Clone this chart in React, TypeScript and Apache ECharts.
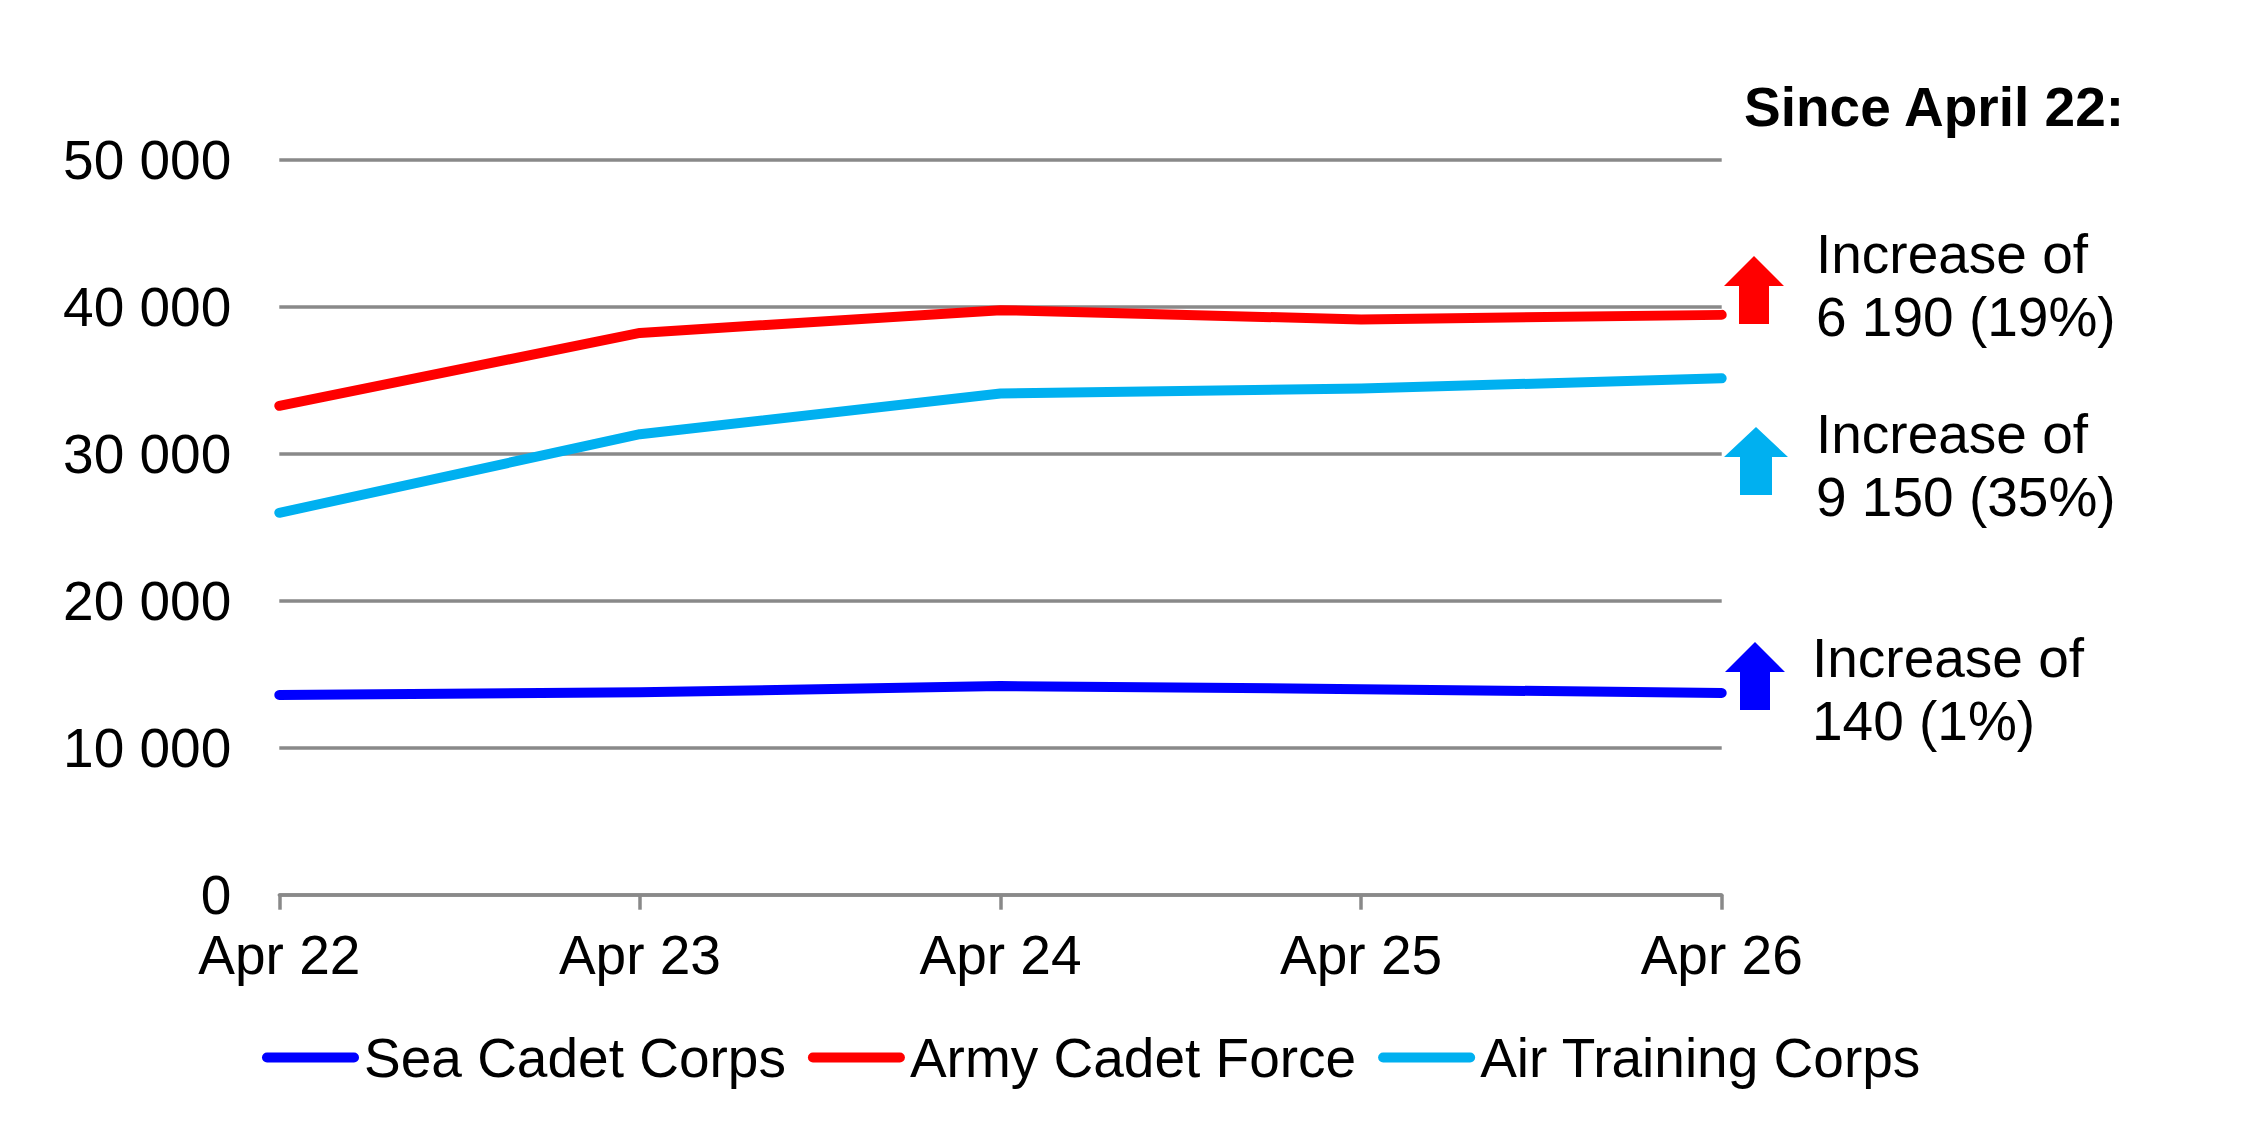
import React, { useEffect, useRef } from "react";
import * as echarts from "echarts";

const categories = ["Apr 22", "Apr 23", "Apr 24", "Apr 25", "Apr 26"];
const seriesNames = ["Sea Cadet Corps", "Army Cadet Force", "Air Training Corps"];
const seaCadet = [13590, 13770, 14200, 13990, 13730];
const armyCadet = [33270, 38230, 39780, 39150, 39460];
const airTraining = [25990, 31340, 34110, 34450, 35140];
const seriesColors = ["#0000FF", "#FF0000", "#00B0F0"];
const yMin = 0;
const yMax = 50000;
const yInterval = 10000;
const noteTitle = "Since April 22:";
const increaseLabels = [
  "Increase of\n6 190 (19%)",
  "Increase of\n9 150 (35%)",
  "Increase of\n140 (1%)",
];

const FONT = "'Liberation Sans', Arial, Helvetica, sans-serif";
const FS = 55;

function fmt(v: number) {
  return String(v).replace(/\B(?=(\d{3})+(?!\d))/g, " ");
}

function arrow(cx: number, top: number, color: string, hw = 30, sw = 15) {
  const headH = 30;
  const total = 68;
  return {
    type: "polygon",
    shape: {
      points: [
        [cx, top],
        [cx + hw, top + headH],
        [cx + sw, top + headH],
        [cx + sw, top + total],
        [cx - sw, top + total],
        [cx - sw, top + headH],
        [cx - hw, top + headH],
      ],
    },
    style: { fill: color },
    z: 10,
  };
}

function note(x: number, top: number, text: string) {
  return {
    type: "text",
    x,
    y: top,
    style: {
      text,
      font: `${FS}px ${FONT}`,
      fontSize: FS,
      fontFamily: FONT,
      fill: "#000",
      lineHeight: 63,
      align: "left",
      verticalAlign: "top",
    },
    z: 10,
  };
}

export default function App() {
  const ref = useRef<HTMLDivElement>(null);
  useEffect(() => {
    if (!ref.current) return;
    const chart = echarts.init(ref.current, undefined, { renderer: "svg" });
    const dataSets = [seaCadet, armyCadet, airTraining];
    const legendIcon = "path://M5 0H92A5 5 0 0 1 92 10H5A5 5 0 0 1 5 0Z";
    chart.setOption({
      animation: false,
      backgroundColor: "#ffffff",
      textStyle: { fontFamily: FONT },
      grid: { left: 279.3, right: 2248 - 1721.7, top: 160, bottom: 1125 - 894.7, containLabel: false },
      xAxis: {
        type: "category",
        data: categories,
        boundaryGap: false,
        axisLine: { show: true, lineStyle: { color: "#898989", width: 3.5 } },
        axisTick: { show: true, length: 15, lineStyle: { color: "#898989", width: 3.5 } },
        axisLabel: { fontSize: FS, color: "#000", fontFamily: FONT, margin: 33 },
        splitLine: { show: false },
      },
      yAxis: {
        type: "value",
        min: yMin,
        max: yMax,
        interval: yInterval,
        axisLine: { show: false },
        axisTick: { show: false },
        axisLabel: {
          fontSize: FS,
          color: "#000",
          fontFamily: FONT,
          margin: 48,
          formatter: (v: number) => fmt(v),
        },
        splitLine: { show: true, lineStyle: { color: "#898989", width: 3.5 } },
      },
      legend: {
        show: true,
        left: 262,
        top: 1030,
        padding: 0,
        itemGap: 22,
        itemWidth: 97,
        itemHeight: 10,
        icon: legendIcon,
        textStyle: { fontSize: FS, color: "#000", fontFamily: FONT },
        data: seriesNames,
      },
      series: seriesNames.map((name, i) => ({
        name,
        type: "line",
        data: dataSets[i],
        symbol: "none",
        color: seriesColors[i],
        itemStyle: { color: seriesColors[i] },
        lineStyle: { color: seriesColors[i], width: 10, cap: "round", join: "round" },
        z: 3,
      })),
      graphic: [
        {
          type: "text",
          x: 1744,
          y: 107,
          style: {
            text: noteTitle,
            font: `bold ${FS}px ${FONT}`,
            fontSize: FS,
            fontWeight: "bold",
            fontFamily: FONT,
            fill: "#000",
            align: "left",
            verticalAlign: "middle",
          },
        },
        arrow(1754, 256, seriesColors[1]),
        arrow(1756, 427, seriesColors[2], 32, 16),
        arrow(1755, 642, seriesColors[0]),
        note(1816, 222, increaseLabels[0]),
        note(1816, 402, increaseLabels[1]),
        note(1812, 626.5, increaseLabels[2]),
      ],
    });
    return () => chart.dispose();
  }, []);
  return (
    <div
      ref={ref}
      style={{ position: "fixed", left: 0, top: 0, width: 2248, height: 1125, background: "#fff" }}
    />
  );
}
